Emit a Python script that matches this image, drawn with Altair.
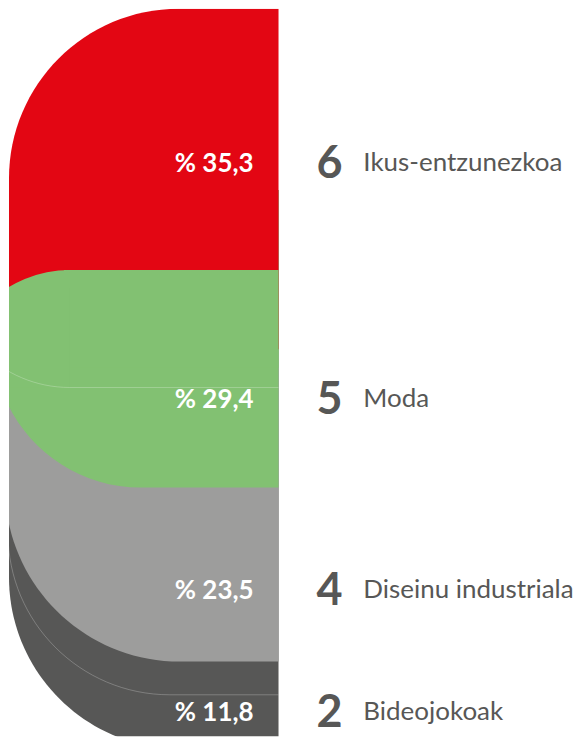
import math
import altair as alt
import pandas as pd

# ---- data ----
names = ["Ikus-entzunezkoa", "Moda", "Diseinu industriala", "Bideojokoak"]
counts = [6, 5, 4, 2]
shares = [35.3, 29.4, 23.5, 11.8]
pct_labels = ["% 35,3", "% 29,4", "% 23,5", "% 11,8"]
colors = ["#E30613", "#82C172", "#9D9D9C", "#575756"]

df = pd.DataFrame({"idx": range(4), "name": names, "count": counts,
                   "share": shares, "pct": pct_labels, "color": colors})
df["end"] = df["share"].cumsum()
df["start"] = df["end"] - df["share"]
df["label_y"] = df["start"] + 0.6 * df["share"]

W, H = 270, 729
Y = alt.Scale(domain=[0, 98.3], nice=False, zero=False, reverse=True)
FILL = alt.Color("color:N", scale=None, legend=None)


def piece(i, y0, y1, x0, x1, **mark):
    return (alt.Chart(df)
            .transform_filter(f"datum.idx == {i}")
            .transform_calculate(y0=y0, y1=y1)
            .mark_rect(clip=True, **mark)
            .encode(x=alt.value(x0), x2=alt.value(x1),
                    y=alt.Y("y0:Q", scale=Y, axis=None), y2="y1:Q"))


seam = dict(fillOpacity=0, stroke="white", strokeOpacity=0.35, strokeWidth=0.7)

layers = [
    # dark (Bideojokoak)
    piece(3, "24.5", "datum.end", 0, 600, cornerRadiusBottomLeft=172).encode(color=FILL),
    piece(3, "-50", "datum.start + 0.38 * datum.share", -1, 600,
          cornerRadiusBottomLeft=162, **seam),
    # grey (Diseinu industriala)
    piece(2, "24.5", "datum.end", -4, 600, cornerRadiusBottomLeft=175).encode(color=FILL),
    # green body with rounded bottom (Moda)
    piece(1, "24.5", "datum.end", -16, 600, cornerRadiusBottomLeft=148).encode(color=FILL),
    # red (Ikus-entzunezkoa)
    piece(0, "datum.start", "46", 0, 600, cornerRadiusTopLeft=170).encode(color=FILL),
    # green top part
    piece(1, "datum.start", "48.5", 55, 600).encode(color=FILL),
    alt.Chart(df).transform_filter("datum.idx == 1")
    .mark_arc(clip=True, theta=1.5 * math.pi, theta2=2 * math.pi, radius=118,
              radius2=0, yOffset=118)
    .encode(x=alt.value(61), y=alt.Y("start:Q", scale=Y, axis=None), color=FILL),
    # green seam
    piece(1, "-50", "datum.start + 0.54 * datum.share", -63, 600,
          cornerRadiusBottomLeft=124, **seam),
]

base = alt.Chart(df).encode(y=alt.Y("label_y:Q", scale=Y, axis=None))
pct = base.mark_text(align="right", baseline="middle", font="Lato", fontWeight="bold",
                     fontSize=26, color="white", dy=-1).encode(x=alt.value(245), text="pct:N")
num = base.mark_text(align="left", baseline="middle", font="Lato", fontWeight="bold",
                     fontSize=45, color="#575756", dy=-1).encode(x=alt.value(308), text="count:N")
lab = base.mark_text(align="left", baseline="middle", font="Lato", fontSize=26,
                     color="#575756", dy=-2).encode(x=alt.value(355), text="name:N")

chart = (alt.layer(*layers, pct, num, lab)
         .properties(width=W, height=H,
                     padding={"left": 1, "top": 0, "right": 0, "bottom": 0})
         .configure_view(stroke=None))

chart.save("out.html", embed_options={"renderer": "svg", "actions": False})
